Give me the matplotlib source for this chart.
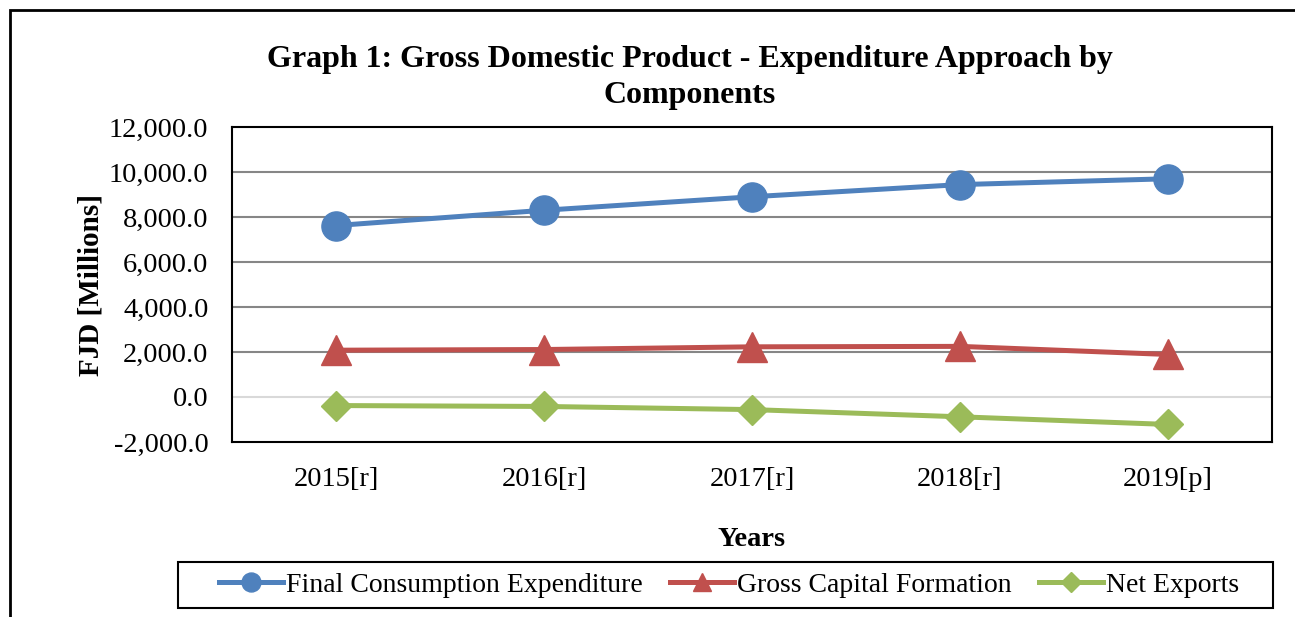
import matplotlib.pyplot as plt
from matplotlib.patches import Rectangle

plt.rcParams['font.family'] = ['Liberation Serif', 'DejaVu Serif']

years = ['2015[r]', '2016[r]', '2017[r]', '2018[r]', '2019[p]']
final_consumption = [7620, 8300, 8900, 9440, 9700]
gross_capital = [2080, 2110, 2230, 2250, 1890]
net_exports = [-380, -420, -560, -880, -1220]
y_ticks = [-2000, 0, 2000, 4000, 6000, 8000, 10000, 12000]

W, H = 1295, 617
fig = plt.figure(figsize=(W / 100, H / 100), dpi=100)
ax = fig.add_axes([232 / W, 1 - 442 / H, 1040 / W, 315 / H])

x = range(len(years))
ax.plot(x, final_consumption, color='#4F81BD', lw=3.6, marker='o', ms=21,
        label='Final Consumption Expenditure', zorder=3)
ax.plot(x, gross_capital, color='#C0504D', lw=3.6, marker='^', ms=21,
        label='Gross Capital Formation', zorder=3)
ax.plot(x, net_exports, color='#9BBB59', lw=3.6, marker='D', ms=15,
        label='Net Exports', zorder=3)

ax.set_xlim(-0.5, len(years) - 0.5)
ax.set_ylim(-2000, 12000)
ax.set_yticks(y_ticks)
ax.set_yticklabels([f'{v:,.1f}' for v in y_ticks])
ax.set_xticks(list(x))
ax.set_xticklabels(years)
ax.tick_params(length=0, labelsize=20.5)
ax.tick_params(axis='y', pad=17)
ax.tick_params(axis='x', pad=18)

for v in y_ticks[1:-1]:
    ax.axhline(v, color='#D9D9D9' if v == 0 else '#868686', lw=1.5, zorder=1)
for s in ax.spines.values():
    s.set_color('black')
    s.set_linewidth(1.5)

ax.set_ylabel('FJD [Millions]', fontsize=21, fontweight='bold', labelpad=3)
ax.set_xlabel('Years', fontsize=20.5, fontweight='bold', labelpad=25)

fig.text(690 / W, 1 - 60 / H, 'Graph 1: Gross Domestic Product - Expenditure Approach by',
         ha='center', va='center', fontsize=23, fontweight='bold')
fig.text(690 / W, 1 - 96 / H, 'Components',
         ha='center', va='center', fontsize=23, fontweight='bold')

leg = fig.legend(loc='center', bbox_to_anchor=(729 / W, 1 - 585 / H), ncol=3,
                 fontsize=20, frameon=False, handlelength=2.3,
                 columnspacing=1.0, handletextpad=0.1, markerscale=0.65)

fig.patches.append(Rectangle((178 / W, 1 - 608 / H), 1095 / W, 46 / H,
                             transform=fig.transFigure, fill=False,
                             edgecolor='black', lw=1.5))
fig.patches.append(Rectangle((10 / W, -0.1), 1.2, 1.1 - 10 / H, transform=fig.transFigure,
                             fill=False, edgecolor='black', lw=2))

fig.savefig('out.png', dpi=100)
